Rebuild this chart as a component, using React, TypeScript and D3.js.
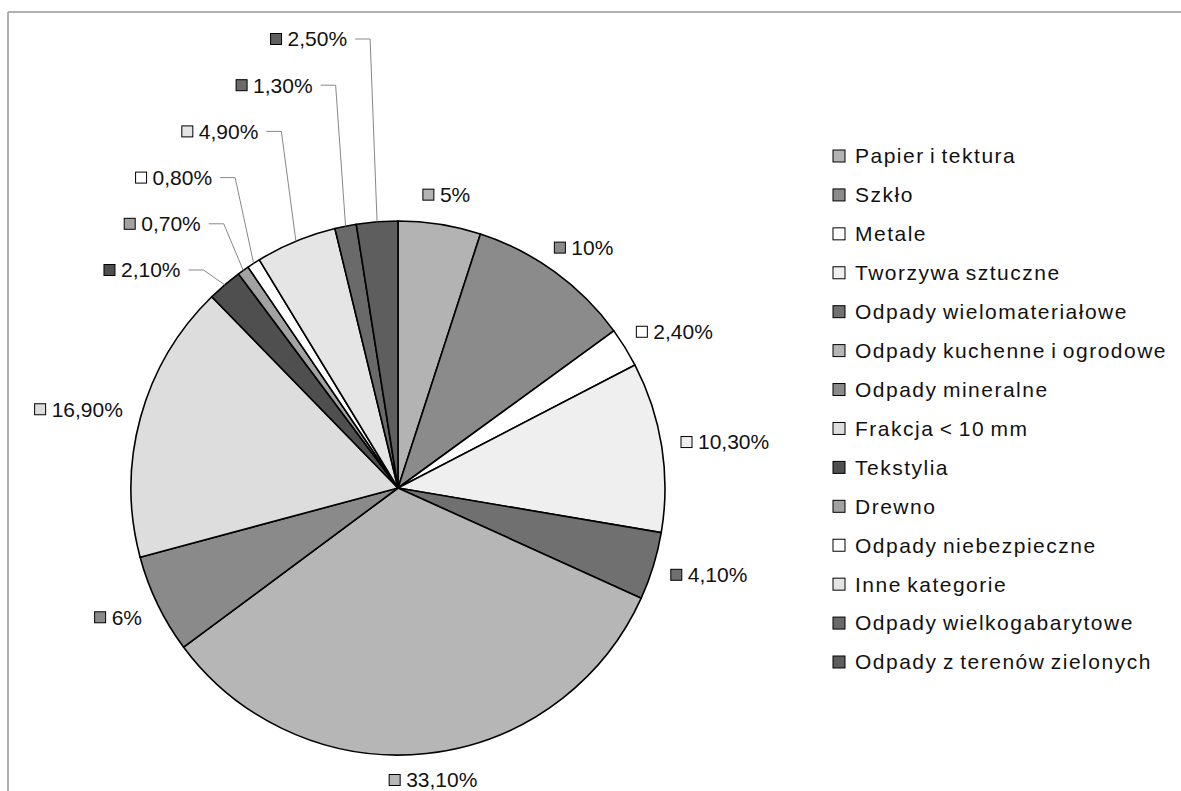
import React from 'react';
import * as d3 from 'd3';

const categories = [
  'Papier i tektura',
  'Szkło',
  'Metale',
  'Tworzywa sztuczne',
  'Odpady wielomateriałowe',
  'Odpady kuchenne i ogrodowe',
  'Odpady mineralne',
  'Frakcja < 10 mm',
  'Tekstylia',
  'Drewno',
  'Odpady niebezpieczne',
  'Inne kategorie',
  'Odpady wielkogabarytowe',
  'Odpady z terenów zielonych',
];
const values = [5, 10, 2.4, 10.3, 4.1, 33.1, 6, 16.9, 2.1, 0.7, 0.8, 4.9, 1.3, 2.5];
const valueLabels = ['5%', '10%', '2,40%', '10,30%', '4,10%', '33,10%', '6%', '16,90%', '2,10%', '0,70%', '0,80%', '4,90%', '1,30%', '2,50%'];
const colors = ['#b3b3b3', '#8b8b8b', '#ffffff', '#efefef', '#707070', '#b6b6b6', '#8a8a8a', '#dddddd', '#4f4f4f', '#a2a2a2', '#ffffff', '#e5e5e5', '#6a6a6a', '#5e5e5e'];
// slices whose labels are pulled out with leader lines
const leaderStart = 8;

const W = 1181;
const H = 791;
const CX = 398;
const CY = 488;
const R = 267;
const FONT = '"Liberation Sans", Arial, sans-serif';
const LABEL_SIZE = 21;

let ctx: CanvasRenderingContext2D | null = null;
function textWidth(t: string, size: number) {
  if (!ctx) ctx = document.createElement('canvas').getContext('2d');
  if (!ctx) return t.length * size * 0.55;
  ctx.font = `${size}px ${FONT}`;
  return ctx.measureText(t).width;
}

export default function App() {
  const pie = d3.pie<number>().sort(null).value((d) => d);
  const arcs = pie(values);
  const arcGen = d3.arc<d3.PieArcDatum<number>>().innerRadius(0).outerRadius(R);

  const nLeader = values.length - leaderStart;
  const leaderTop = 39;
  const leaderStep = 46.2;
  const legendY = d3.scaleLinear().domain([0, categories.length - 1]).range([156, 662]);

  return (
    <svg width={W} height={H} style={{ position: 'absolute', left: 0, top: 0, background: '#fff' }} fontFamily={FONT}>
      <rect x={0} y={0} width={W} height={H} fill="#fff" />
      <line x1={8} y1={12} x2={W} y2={12} stroke="#b0b0b0" strokeWidth={2} />
      <line x1={8} y1={12} x2={8} y2={H} stroke="#b0b0b0" strokeWidth={2} />
      <g transform={`translate(${CX},${CY})`}>
        {arcs.map((a, i) => (
          <path key={i} d={arcGen(a) || ''} fill={colors[i]} stroke="#000" strokeWidth={1.6} strokeLinejoin="round" />
        ))}
      </g>
      {arcs.map((a, i) => {
        const mid = (a.startAngle + a.endAngle) / 2;
        const s = Math.sin(mid);
        const c = Math.cos(mid);
        const tw = textWidth(valueLabels[i], LABEL_SIZE);
        if (i < leaderStart) {
          const bw = 12 + 5 + tw;
          const g = 20;
          const cx = CX + (R + g) * s + (bw / 2) * s;
          const cy = Math.min(CY - (R + g) * c - 10 * c, H - 11);
          const x0 = cx - bw / 2;
          return (
            <g key={i}>
              <rect x={x0} y={cy - 5.5} width={11} height={11} fill={colors[i]} stroke="#000" strokeWidth={1} />
              <text x={x0 + 17} y={cy} dy="0.35em" fontSize={LABEL_SIZE} fill="#111">{valueLabels[i]}</text>
            </g>
          );
        }
        const k = i - leaderStart;
        const ly = leaderTop + (nLeader - 1 - k) * leaderStep;
        const ex = CX + R * s;
        const ey = CY - R * c;
        const elbowX = ex - 5 - 25 * Math.abs(s);
        const hStart = elbowX - 15;
        const textEnd = hStart - 8;
        const textStart = textEnd - tw;
        return (
          <g key={i}>
            <polyline points={`${ex},${ey} ${elbowX},${ly} ${hStart},${ly}`} fill="none" stroke="#888" strokeWidth={1} />
            <rect x={textStart - 17} y={ly - 5.5} width={11} height={11} fill={colors[i]} stroke="#000" strokeWidth={1} />
            <text x={textStart} y={ly} dy="0.35em" fontSize={LABEL_SIZE} fill="#111">{valueLabels[i]}</text>
          </g>
        );
      })}
      {categories.map((name, i) => (
        <g key={name}>
          <rect x={833} y={legendY(i) - 6} width={12} height={12} fill={colors[i]} stroke="#000" strokeWidth={1} />
          <text x={855} y={legendY(i)} dy="0.35em" fontSize={21} letterSpacing={1.5} wordSpacing={-2} fill="#111">{name}</text>
        </g>
      ))}
    </svg>
  );
}
